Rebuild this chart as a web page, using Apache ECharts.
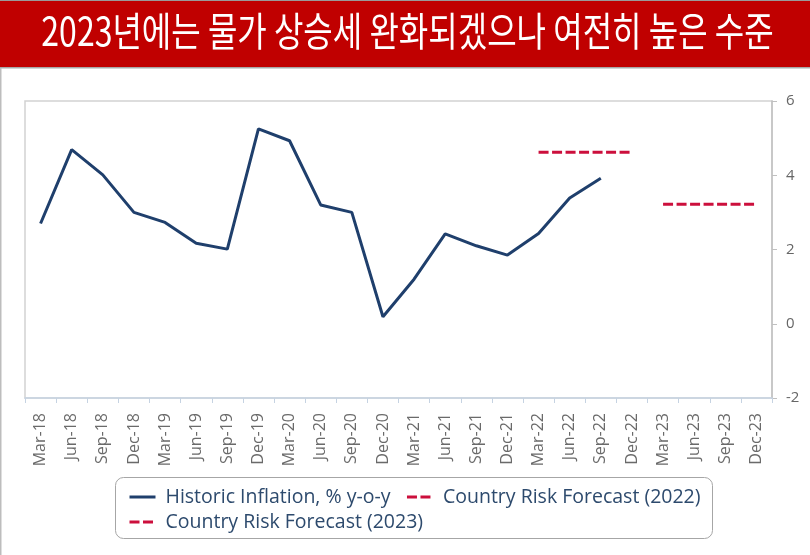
<!DOCTYPE html>
<html>
<head>
<meta charset="utf-8">
<script src="https://cdn.jsdelivr.net/npm/echarts@6/dist/echarts.min.js"></script>
<style>
html,body{margin:0;padding:0;background:#fff;}
#chart{width:810px;height:555px;}
</style>
</head>
<body>
<div id="chart"></div>
<script>
const titleText = '2023년에는 물가 상승세 완화되겠으나 여전히 높은 수준';
const categories = ['Mar-18','Jun-18','Sep-18','Dec-18','Mar-19','Jun-19','Sep-19','Dec-19','Mar-20','Jun-20','Sep-20','Dec-20','Mar-21','Jun-21','Sep-21','Dec-21','Mar-22','Jun-22','Sep-22','Dec-22','Mar-23','Jun-23','Sep-23','Dec-23'];
const historic = [2.70, 4.69, 4.01, 3.00, 2.73, 2.17, 2.01, 5.25, 4.93, 3.20, 3.00, 0.19, 1.20, 2.42, 2.10, 1.85, 2.43, 3.39, 3.92, null, null, null, null, null];
const forecast2022 = [null, null, null, null, null, null, null, null, null, null, null, null, null, null, null, null, 4.62, 4.62, 4.62, 4.62, null, null, null, null];
const forecast2023 = [null, null, null, null, null, null, null, null, null, null, null, null, null, null, null, null, null, null, null, null, 3.22, 3.22, 3.22, 3.22];
const seriesNames = ['Historic Inflation, % y-o-y', 'Country Risk Forecast (2022)', 'Country Risk Forecast (2023)'];
const yTicks = {min: -2, max: 6, interval: 2};

const chart = echarts.init(document.getElementById('chart'), null, {renderer: 'canvas'});
const navy = '#1f3f6c';
const red = '#cc0f3c';
const dash = [10, 3.5];
const legendText = {color: '#2d4a6d', fontSize: 19.5, fontFamily: 'Open Sans', padding: [0, 0, 0, 5], lineHeight: 22};
function legendItem(name, color, type) {
  return {name: name, itemStyle: {opacity: 0, color: color, borderWidth: 0},
    lineStyle: {color: color, width: 3, type: type}};
}

chart.setOption({
  animation: false,
  backgroundColor: '#ffffff',
  graphic: [
    {type: 'rect', shape: {x: 0, y: 0, width: 810, height: 1}, style: {fill: '#9a9a9a'}, silent: true},
    {type: 'rect', shape: {x: 0, y: 1, width: 810, height: 66}, style: {fill: '#c00000'}, silent: true},
    {type: 'rect', shape: {x: 0, y: 67, width: 810, height: 1.5}, style: {fill: '#a8a8a8'}, silent: true},
    {type: 'rect', shape: {x: 0, y: 68, width: 1.5, height: 487}, style: {fill: '#bdbdbd'}, silent: true},
    {type: 'text', x: 407.5, y: 31, scaleX: 0.80, silent: true,
      style: {text: titleText, x: 0, y: 0, textAlign: 'center', textVerticalAlign: 'middle',
        font: '40px "Noto Sans CJK KR"', fill: '#ffffff'}},
    {type: 'rect', shape: {x: 115.5, y: 477.5, width: 597, height: 61, r: 8},
      style: {fill: 'transparent', stroke: '#a6a6a6', lineWidth: 1}, silent: true}
  ],
  grid: {left: 25, top: 101, right: 38, bottom: 157, show: true, borderColor: '#d2d2d2', borderWidth: 1.5},
  legend: [
    {data: [legendItem(seriesNames[0], navy, 'solid'), legendItem(seriesNames[1], red, dash)],
      left: 128, top: 486, padding: 0, itemGap: 15, itemWidth: 26, itemHeight: 12,
      textStyle: legendText, selectedMode: false},
    {data: [legendItem(seriesNames[2], red, dash)],
      left: 128, top: 511, padding: 0, itemGap: 15, itemWidth: 26, itemHeight: 12,
      textStyle: legendText, selectedMode: false}
  ],
  xAxis: {
    type: 'category', data: categories, boundaryGap: true,
    axisLine: {onZero: false, lineStyle: {color: '#c6d3e2', width: 1.5}},
    axisTick: {show: true, interval: 0, length: 5, lineStyle: {color: '#c6d3e2'}},
    axisLabel: {interval: 0, rotate: 90, margin: 15, fontSize: 16, fontFamily: 'Open Sans', color: '#6a6a6a', padding: [0, 0, 10, 0]},
    splitLine: {show: false}
  },
  yAxis: {
    type: 'value', position: 'right', min: yTicks.min, max: yTicks.max, interval: yTicks.interval,
    axisLine: {show: true, lineStyle: {color: '#c0c0c0', width: 1.5}},
    axisTick: {show: true, length: 5, lineStyle: {color: '#c0c0c0'}},
    axisLabel: {margin: 14, fontSize: 15, fontFamily: 'Open Sans', color: '#666666'},
    splitLine: {show: false}
  },
  series: [
    {name: seriesNames[0], type: 'line', data: historic, symbol: 'none', connectNulls: false,
      lineStyle: {color: navy, width: 3}, itemStyle: {color: navy}},
    {name: seriesNames[1], type: 'line', data: forecast2022, symbol: 'none',
      lineStyle: {color: red, width: 3, type: dash}, itemStyle: {color: red}},
    {name: seriesNames[2], type: 'line', data: forecast2023, symbol: 'none',
      lineStyle: {color: red, width: 3, type: dash}, itemStyle: {color: red}}
  ]
});
</script>
</body>
</html>
